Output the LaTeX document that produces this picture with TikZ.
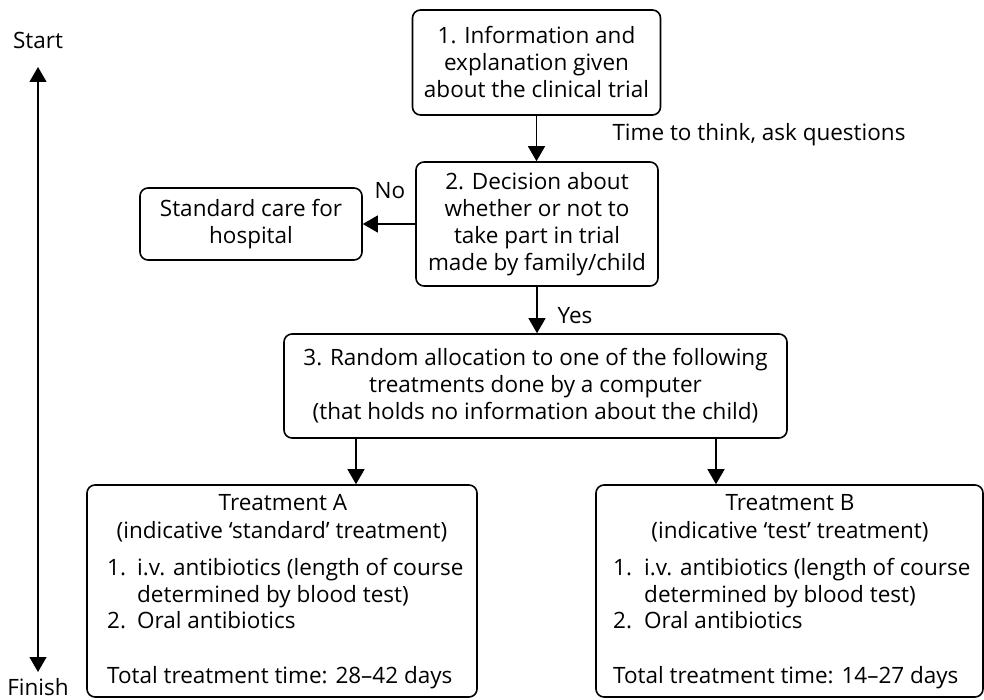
\documentclass[tikz,border=0pt]{standalone}
\usepackage{fontspec}
\setmainfont{Open Sans}
\usetikzlibrary{arrows.meta}
\newcommand\bodyfs{\fontsize{22.5}{27}\selectfont}
\begin{document}
\begin{tikzpicture}[x=1pt,y=-1pt,
  box/.style={draw, line width=1.6pt, rounded corners=8pt, align=center, inner sep=0pt, font=\bodyfs},
  arr/.style={line width=1.3pt, -{Triangle[length=15pt,width=17pt]}},
  dblarr/.style={line width=1.3pt, {Triangle[length=15pt,width=17pt]}-{Triangle[length=15pt,width=17pt]}},
  ln/.style={font=\bodyfs, inner sep=0pt, text height=16pt, text depth=5pt, anchor=west},
  cln/.style={font=\bodyfs, inner sep=0pt, text height=16pt, text depth=5pt}]
\useasboundingbox (0,0) rectangle (984,700);

% boxes
\node[box, minimum width=248pt, minimum height=105pt] (b1) at (536.5,62.5)
  {1. Information and\\explanation given\\about the clinical trial};
\node[box, minimum width=242pt, minimum height=124pt] (b2) at (537,224)
  {2. Decision about\\whether or not to\\take part in trial\\made by family/child};
\node[box, minimum width=222pt, minimum height=72pt] (sc) at (251,224)
  {Standard care for\\hospital};
\node[box, minimum width=503pt, minimum height=104pt] (b3) at (535.5,386)
  {3. Random allocation to one of the following\\treatments done by a computer\\(that holds no information about the child)};
\node[box, minimum width=390pt, minimum height=212pt] (ta) at (282,591) {};
\node[box, minimum width=387pt, minimum height=212pt] (tb) at (789.5,591) {};

% treatment A text
\node[cln] (ta1) at (283,505) {Treatment A};
\node[cln] (ta2) at (282,533) {(indicative ‘standard’ treatment)};
\node[ln] (ta3n) at (107,570) {1.};
\node[ln] (ta3) at (137,570) {i.v. antibiotics (length of course};
\node[ln] (ta4) at (137,597) {determined by blood test)};
\node[ln] (ta5n) at (107,623) {2.};
\node[ln] (ta5) at (137,623) {Oral antibiotics};
\node[ln] (ta6) at (107,678) {Total treatment time: 28–42 days};

% treatment B text
\node[cln] (tb1) at (790,505) {Treatment B};
\node[cln] (tb2) at (790,533) {(indicative ‘test’ treatment)};
\node[ln] (tb3n) at (613,570) {1.};
\node[ln] (tb3) at (644,570) {i.v. antibiotics (length of course};
\node[ln] (tb4) at (644,597) {determined by blood test)};
\node[ln] (tb5n) at (613,623) {2.};
\node[ln] (tb5) at (644,623) {Oral antibiotics};
\node[ln] (tb6) at (613,678) {Total treatment time: 14–27 days};

% labels
\node[cln] (think) at (759,135) {Time to think, ask questions};
\node[cln] (no) at (390,193) {No};
\node[cln] (yes) at (575,318) {Yes};
\node[cln] (start) at (38,43) {Start};
\node[cln] (finish) at (38,690) {Finish};

% connectors
\coordinate (xa) at (356,0);
\coordinate (xb) at (716,0);
\coordinate (tt) at (38,67);
\coordinate (tbt) at (38,672);
\draw[arr] (b1.south) -- (b1.south |- b2.north);
\draw[arr] (b2.west) -- (sc.east);
\draw[arr] (b2.south) -- (b3.north -| b2.south);
\draw[arr] (b3.south -| xa) -- (ta.north -| xa);
\draw[arr] (b3.south -| xb) -- (tb.north -| xb);
\draw[dblarr] (tt) -- (tbt);
\end{tikzpicture}
\end{document}
